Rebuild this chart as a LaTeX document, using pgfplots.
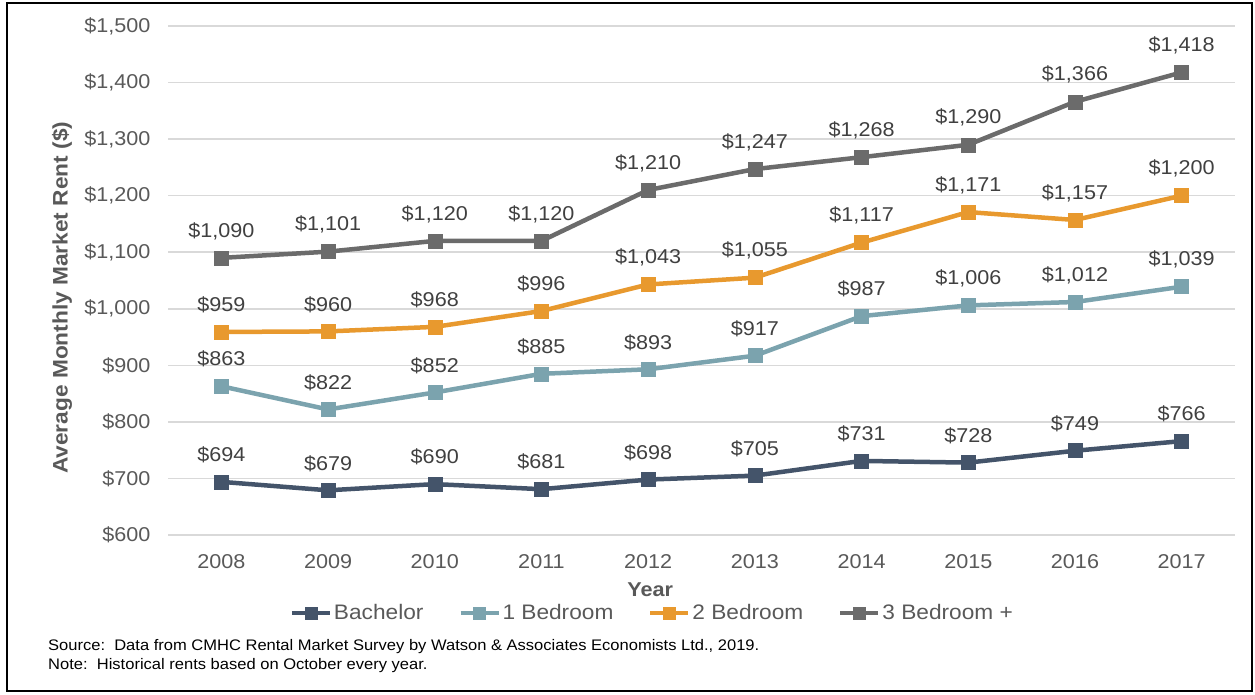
\documentclass[border=0pt]{standalone}
\usepackage{fontspec}
\setmainfont{Liberation Sans}[FakeStretch=1.08]
\usepackage{pgfplots}
\pgfplotsset{compat=1.18}
\definecolor{cBach}{HTML}{44546A}
\definecolor{cOne}{HTML}{7BA3AE}
\definecolor{cTwo}{HTML}{E8992E}
\definecolor{cThree}{HTML}{6B6B6B}
\definecolor{txt}{HTML}{595959}
\definecolor{lbl}{HTML}{404040}
\definecolor{grd}{HTML}{D9D9D9}
\begin{document}
\begin{tikzpicture}[x=1pt,y=1pt]
\useasboundingbox (0,0) rectangle (1255,694);
\draw[black, line width=2pt] (7,3) rectangle (1252,691);
\begin{axis}[
  at={(168pt,159pt)}, anchor=south west,
  scale only axis, width=1067pt, height=509pt,
  xmin=-0.5, xmax=9.5, ymin=600, ymax=1500,
  xtick={0,...,9},
  xticklabels={2008,2009,2010,2011,2012,2013,2014,2015,2016,2017},
  ytick={600,700,...,1500},
  yticklabels={{\$600},{\$700},{\$800},{\$900},{\$1,000},{\$1,100},{\$1,200},{\$1,300},{\$1,400},{\$1,500}},
  axis line style={draw=none},
  major tick length=0pt,
  ymajorgrids, grid style={grd, line width=1.5pt},
  tick label style={font=\fontsize{20}{24}\selectfont, text=txt},
  yticklabel style={xshift=-14pt},
  xticklabel style={yshift=-16pt},
  xlabel={\textbf{Year}},
  xlabel style={at={(axis description cs:0.452,-0.108)}, anchor=center, font=\fontsize{20}{24}\selectfont, text=txt},
  ylabel={\textbf{Average Monthly Market Rent (\$)}},
  ylabel style={at={(axis description cs:-0.0993,0.466)}, anchor=center, font=\fontsize{21}{24}\selectfont, text=txt},
  clip=false,
  every axis plot/.append style={line width=4.5pt, mark=square*, mark size=7pt},
  nodes near coords={\$\pgfmathprintnumber{\pgfplotspointmeta}},
  /pgf/number format/.cd, 1000 sep={,}, assume math mode=true, /pgfplots/.cd,
  every node near coord/.append style={anchor=center, yshift=27pt, font=\fontsize{20}{24}\selectfont, text=lbl},
  legend columns=4,
  legend style={at={(axis description cs:0.454,-0.153)}, anchor=center, draw=none, fill=none,
    font=\fontsize{21}{24}\selectfont, text=txt,
    /tikz/every even column/.append style={column sep=33pt}, inner sep=0pt},
  legend image code/.code={\draw[#1, line width=4pt, mark size=6pt, mark repeat=2, mark phase=2] plot coordinates {(0pt,0pt) (19pt,0pt) (38pt,0pt)};},
]
\addplot[cBach, mark options={fill=cBach, line width=0.5pt}] coordinates {(0,694)(1,679)(2,690)(3,681)(4,698)(5,705)(6,731)(7,728)(8,749)(9,766)};
\addlegendentry{Bachelor}
\addplot[cOne, mark options={fill=cOne, line width=0.5pt}] coordinates {(0,863)(1,822)(2,852)(3,885)(4,893)(5,917)(6,987)(7,1006)(8,1012)(9,1039)};
\addlegendentry{1 Bedroom}
\addplot[cTwo, mark options={fill=cTwo, line width=0.5pt}] coordinates {(0,959)(1,960)(2,968)(3,996)(4,1043)(5,1055)(6,1117)(7,1171)(8,1157)(9,1200)};
\addlegendentry{2 Bedroom}
\addplot[cThree, mark options={fill=cThree, line width=0.5pt}] coordinates {(0,1090)(1,1101)(2,1120)(3,1120)(4,1210)(5,1247)(6,1268)(7,1290)(8,1366)(9,1418)};
\addlegendentry{3 Bedroom +}
\end{axis}
\node[anchor=west, font=\fontsize{15.3}{18}\selectfont, inner sep=0pt] at (48,47) {Source:\ \ Data from CMHC Rental Market Survey by Watson \& Associates Economists Ltd., 2019.};
\node[anchor=west, font=\fontsize{15.3}{18}\selectfont, inner sep=0pt] at (48,28) {Note:\ \ Historical rents based on October every year.};
\end{tikzpicture}
\end{document}
